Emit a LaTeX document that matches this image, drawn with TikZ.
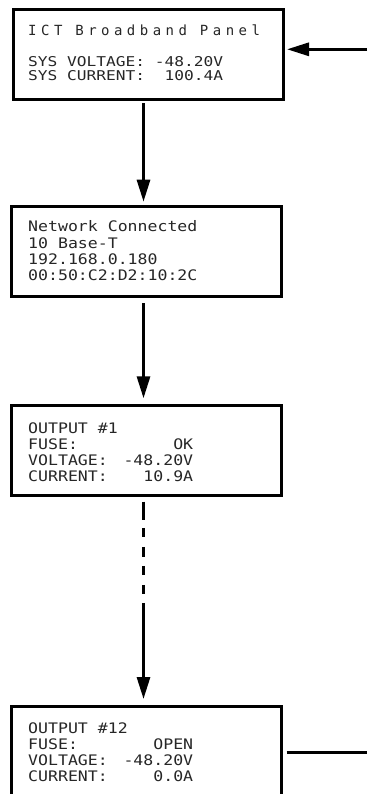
\documentclass[tikz,border=0pt]{standalone}
\usepackage{fontspec}
\usetikzlibrary{arrows.meta}
\newfontfamily\lcd[FakeStretch=1.14]{DejaVu Sans Mono}
\newfontfamily\lcdwide[FakeStretch=1.2]{DejaVu Sans Mono}
\newfontfamily\lcdtitle[LetterSpace=32]{DejaVu Sans Mono}
\begin{document}
\begin{tikzpicture}[x=1pt,y=-1pt,
  panel/.style={draw=black, line width=3pt, minimum width=270pt, minimum height=90pt, inner sep=0pt},
  lcdtext/.style={anchor=base west, inner sep=0pt, text=black!85, font=\lcd\fontsize{14.5}{16}\selectfont},
  systext/.style={anchor=base west, inner sep=0pt, text=black!85, font=\lcdwide\fontsize{13.5}{14}\selectfont},
  titletext/.style={anchor=base west, inner sep=0pt, text=black!85, font=\lcdtitle\fontsize{14}{16}\selectfont},
  arr/.style={line width=3pt, -{Triangle[length=22pt,width=13pt]}},
  link/.style={line width=3pt}
]
\useasboundingbox (0,0) rectangle (367,794);
\clip (0,0) rectangle (367,794);

% panels
\node[panel] (b1) at (148.5,54.4) {};
\node[panel] (b2) at (146,251.7) {};
\node[panel] (b3) at (146,450.3) {};
\node[panel, minimum height=140pt] (b4) at (146.5,776.7) {};

% connectors
\coordinate (ax) at (143.5,0);
\coordinate (in1) at (367,49.3);
\coordinate (out4) at (367,752);
\draw[arr, shorten >=2pt] (in1) -- (b1.east |- in1);
\draw[arr, shorten <=2.5pt, shorten >=3.5pt] (b1.south -| ax) -- (b2.north -| ax);
\draw[arr, shorten <=4.8pt, shorten >=5.5pt] (b2.south -| ax) -- (b3.north -| ax);
\draw[arr, shorten <=4.7pt, shorten >=6.2pt,
  dash pattern={on 18.3pt off 8pt on 9pt off 10pt on 10pt off 9pt on 9pt off 10pt on 9pt off 9pt on 300pt}]
  (b3.south -| ax) -- (b4.north -| ax);
\draw[link, shorten <=3.5pt] (b4.east |- out4) -- (out4);

% panel 1 text
\node[titletext] (t11) at (28,36) {ICT Broadband Panel};
\node[systext] (t12) at (28,67) {\makebox[195pt][l]{SYS VOLTAGE:\hfill-48.20V}};
\node[systext] (t13) at (28,80.5) {\makebox[195pt][l]{SYS CURRENT:\hfill100.4A}};

% panel 2 text
\node[lcdtext] (t21) at (28,232) {Network Connected};
\node[lcdtext] (t22) at (28,248) {10 Base-T};
\node[lcdtext] (t23) at (28,264) {192.168.0.180};
\node[lcdtext] (t24) at (28,280) {00:50:C2:D2:10:2C};

% panel 3 text
\node[lcdtext] (t31) at (28,433) {OUTPUT \#1};
\node[lcdtext] (t32) at (28,449) {\makebox[165pt][l]{FUSE:\hfill OK}};
\node[lcdtext] (t33) at (28,465) {\makebox[165pt][l]{VOLTAGE:\hfill -48.20V}};
\node[lcdtext] (t34) at (28,481) {\makebox[165pt][l]{CURRENT:\hfill 10.9A}};

% panel 4 text
\node[lcdtext] (t41) at (28,733) {OUTPUT \#12};
\node[lcdtext] (t42) at (28,749) {\makebox[165pt][l]{FUSE:\hfill OPEN}};
\node[lcdtext] (t43) at (28,765) {\makebox[165pt][l]{VOLTAGE:\hfill -48.20V}};
\node[lcdtext] (t44) at (28,781) {\makebox[165pt][l]{CURRENT:\hfill 0.0A}};
\end{tikzpicture}
\end{document}
